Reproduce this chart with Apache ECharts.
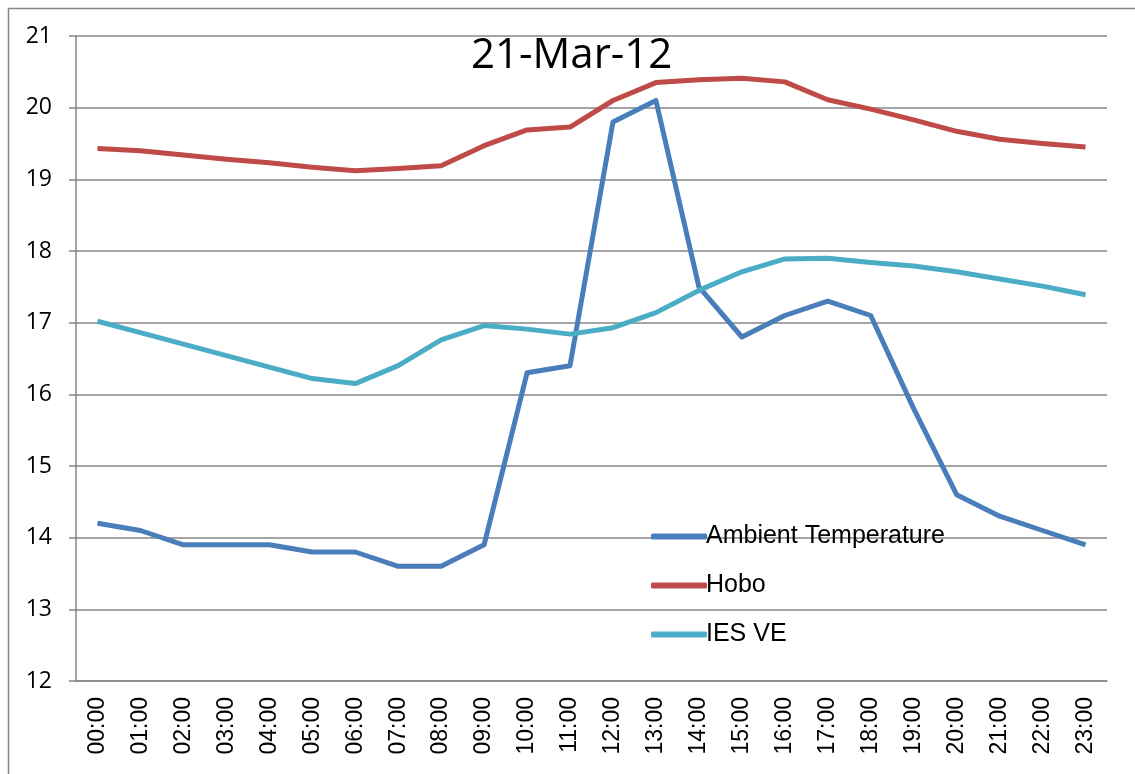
<!DOCTYPE html>
<html>
<head>
<meta charset="utf-8">
<script src="https://cdn.jsdelivr.net/npm/echarts@6/dist/echarts.min.js"></script>
<style>
  html, body { margin: 0; padding: 0; background: #fff; }
  #chart { width: 1135px; height: 774px; }
</style>
</head>
<body>
<div id="chart"></div>
<script>
const hours = [
  "00:00", "01:00", "02:00", "03:00", "04:00", "05:00", "06:00", "07:00",
  "08:00", "09:00", "10:00", "11:00", "12:00", "13:00", "14:00", "15:00",
  "16:00", "17:00", "18:00", "19:00", "20:00", "21:00", "22:00", "23:00"
];
const ambient = [
  14.2, 14.1, 13.9, 13.9, 13.9, 13.8, 13.8, 13.6, 13.6, 13.9, 16.3, 16.4,
  19.8, 20.1, 17.5, 16.8, 17.1, 17.3, 17.1, 15.8, 14.6, 14.3, 14.1, 13.9
];
const hobo = [
  19.43, 19.4, 19.34, 19.28, 19.23, 19.17, 19.12, 19.15, 19.19, 19.47, 19.69, 19.73,
  20.1, 20.35, 20.39, 20.41, 20.36, 20.11, 19.98, 19.83, 19.67, 19.56, 19.5, 19.45
];
const iesVe = [
  17.02, 16.86, 16.7, 16.54, 16.38, 16.22, 16.15, 16.4, 16.76, 16.96, 16.91, 16.84,
  16.93, 17.14, 17.45, 17.71, 17.89, 17.9, 17.84, 17.79, 17.71, 17.61, 17.51, 17.39
];

const axisGrey = "#868686";
const chart = echarts.init(document.getElementById("chart"));

const option = {
  animation: false,
  graphic: [
    {
      type: "rect",
      shape: { x: 8.5, y: 8.5, width: 1200, height: 800 },
      style: { fill: "none", stroke: axisGrey, lineWidth: 1.5 },
    },
  ],
  title: {
    text: "21-Mar-12",
    left: 466,
    top: 30,
    textStyle: {
      fontFamily: "Open Sans",
      fontSize: 42,
      fontWeight: "normal",
      color: "#000",
    },
  },
  legend: {
    orient: "vertical",
    left: 646,
    top: 519,
    itemWidth: 56,
    itemHeight: 6,
    itemGap: 24,
    icon: "roundRect",
    textStyle: {
      fontFamily: "Liberation Sans Narrow, Liberation Sans",
      fontSize: 25,
      color: "#000",
      padding: [0, 0, 0, -6],
    },
    data: ["Ambient Temperature", "Hobo", "IES VE"],
  },
  grid: { left: 76, top: 36, right: 28, bottom: 93 },
  xAxis: {
    type: "category",
    data: hours,
    boundaryGap: true,
    axisLine: { lineStyle: { color: axisGrey, width: 1.5 } },
    axisTick: { interval: 0, length: 7, lineStyle: { color: axisGrey, width: 1.5 } },
    axisLabel: {
      interval: 0,
      rotate: 90,
      margin: 16,
      fontFamily: "Liberation Sans",
      fontSize: 23,
      color: "#000",
    },
  },
  yAxis: {
    type: "value",
    min: 12,
    max: 21,
    interval: 1,
    axisLine: { show: true, lineStyle: { color: axisGrey, width: 1.5 } },
    axisTick: { show: true, length: 7, lineStyle: { color: axisGrey, width: 1.5 } },
    splitLine: { lineStyle: { color: axisGrey, width: 1.5 } },
    axisLabel: {
      margin: 24,
      fontFamily: "Open Sans",
      fontSize: 23,
      color: "#000",
    },
  },
  series: [
    {
      name: "Ambient Temperature",
      type: "line",
      data: ambient,
      showSymbol: false,
      color: "#4A7EBB",
      lineStyle: { width: 5, join: "round" },
    },
    {
      name: "Hobo",
      type: "line",
      data: hobo,
      showSymbol: false,
      color: "#BE4B48",
      lineStyle: { width: 5, join: "round" },
    },
    {
      name: "IES VE",
      type: "line",
      data: iesVe,
      showSymbol: false,
      color: "#4BACC6",
      lineStyle: { width: 5, join: "round" },
    },
  ],
};

chart.setOption(option);
</script>
</body>
</html>
